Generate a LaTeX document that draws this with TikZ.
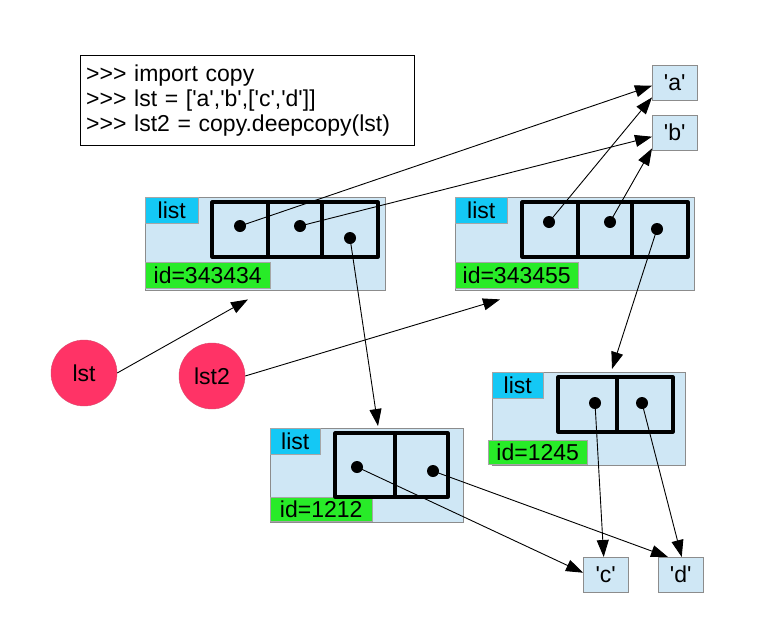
\documentclass[tikz,border=0pt]{standalone}
\usepackage{fontspec}
\setmainfont{Liberation Sans}[Ligatures=TeXOff]
\usetikzlibrary{arrows.meta}
\definecolor{objblue}{RGB}{207,231,245}
\definecolor{tagcyan}{RGB}{20,200,245}
\definecolor{idgreen}{RGB}{40,235,40}
\definecolor{varred}{RGB}{255,51,102}
\tikzset{
  obj/.style={draw=gray!90, fill=objblue, anchor=north west, inner sep=0pt},
  tag/.style={draw=gray!70, anchor=north west, inner sep=0pt, minimum height=26pt},
  cell/.style={line width=3.2pt, line cap=round, line join=round},
  ref/.style={circle, fill=black, inner sep=0pt, minimum size=12pt},
  var/.style={circle, draw=varred!70!gray, fill=varred, minimum size=66pt, inner sep=0pt},
  val/.style={draw=gray!90, fill=objblue, anchor=north west, minimum width=45pt, minimum height=35pt, inner sep=0pt},
  link/.style={-{Triangle[length=17pt,width=12pt]}, line width=0.9pt},
}
\begin{document}
\begin{tikzpicture}[x=1pt, y=-1pt, font=\fontsize{23}{25}\selectfont]
  \useasboundingbox (0,0) rectangle (762,635);
  % source code
  \node[draw, anchor=north west, minimum width=334pt, minimum height=90pt, align=left, inner sep=0pt, text width=322pt] (code) at (80,55)
    {>>> import copy\\>>> lst = ['a','b',['c','d']]\\>>> lst2 = copy.deepcopy(lst)};
  % values
  \node[val] (a) at (652,65) {'a'};
  \node[val] (b) at (652,115) {'b'};
  \node[val] (c) at (583,557) {'c'};
  \node[val] (d) at (658,557) {'d'};
  % outer list
  \node[obj, minimum width=240pt, minimum height=93pt] (l1) at (145,197) {};
  \node[tag, fill=tagcyan, minimum width=53pt] (l1t) at (145,197) {list};
  \node[tag, fill=idgreen, minimum width=125pt] (l1i) at (145,262) {id=343434};
  \draw[cell] (212,202) rectangle (378,257) (268,202) -- (268,257) (322,202) -- (322,257);
  \node[ref] (p11) at (240,226) {};
  \node[ref] (p12) at (300,226) {};
  \node[ref] (p13) at (350,238) {};
  % deep copy
  \node[obj, minimum width=239pt, minimum height=93pt] (l2) at (455,197) {};
  \node[tag, fill=tagcyan, minimum width=52pt] (l2t) at (455,197) {list};
  \node[tag, fill=idgreen, minimum width=123pt] (l2i) at (455,262) {id=343455};
  \draw[cell] (522,202) rectangle (688,257) (578,202) -- (578,257) (632,202) -- (632,257);
  \node[ref] (p21) at (549,222) {};
  \node[ref] (p22) at (610,222) {};
  \node[ref] (p23) at (657,229) {};
  % inner list of the copy
  \node[obj, minimum width=193pt, minimum height=93pt] (l3) at (492,372) {};
  \node[tag, fill=tagcyan, minimum width=51pt] (l3t) at (492,372) {list};
  \node[tag, fill=idgreen, minimum width=99pt, minimum height=24pt] (l3i) at (488,440) {id=1245};
  \draw[cell] (558,377) rectangle (673,432) (617,377) -- (617,432);
  \node[ref] (p31) at (595,403) {};
  \node[ref] (p32) at (642,403) {};
  % inner list
  \node[obj, minimum width=193pt, minimum height=94pt] (l4) at (270,428) {};
  \node[tag, fill=tagcyan, minimum width=50pt] (l4t) at (270,428) {list};
  \node[tag, fill=idgreen, minimum width=102pt, minimum height=24pt] (l4i) at (270,497) {id=1212};
  \draw[cell] (335,433) rectangle (448,497) (395,433) -- (395,497);
  \node[ref] (p41) at (357,467) {};
  \node[ref] (p42) at (433,471) {};
  % names
  \node[var] (lst) at (84,373) {lst};
  \node[var] (lst2) at (212,376) {lst2};
  % references
  \draw[link] (lst.east) -- ([xshift=103pt,yshift=-9pt]l1.south west);
  \draw[link] (lst2.east) -- ([xshift=45pt,yshift=-9pt]l2.south west);
  \draw[link] (p11.center) -- ([yshift=-3pt]a.west);
  \draw[link] (p12.center) -- ([yshift=-4pt]b.west);
  \draw[link] (p21.center) -- ([yshift=3pt]a.south west);
  \draw[link] (p22.center) -- ([yshift=2pt]b.south west);
  \draw[link] (p13.center) -- ([xshift=108pt,yshift=2pt]l4.north west);
  \draw[link] (p23.center) -- ([xshift=120pt,yshift=3pt]l3.north west);
  \draw[link] (p31.center) -- ([xshift=-2pt]c.north);
  \draw[link] (p32.center) -- ([xshift=1pt]d.north);
  \draw[link] (p41.center) -- ([yshift=2pt]c.west);
  \draw[link] (p42.center) -- ([xshift=10pt]d.north west);
\end{tikzpicture}
\end{document}
